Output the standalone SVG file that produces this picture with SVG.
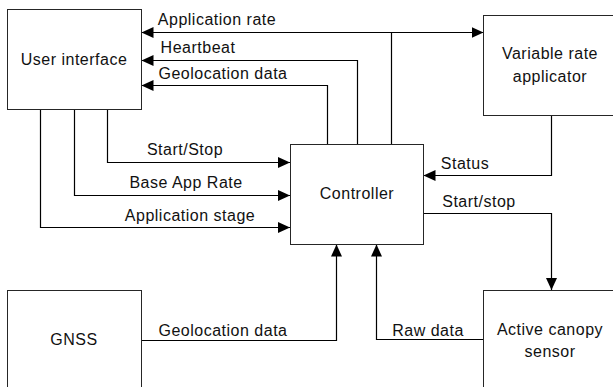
<svg xmlns="http://www.w3.org/2000/svg" width="613" height="387" viewBox="0 0 613 387">
  <style>
    .box { fill: #ffffff; stroke: #262626; stroke-width: 1; }
    .lbl { font-family: "Liberation Sans", Arial, sans-serif; font-size: 16px; letter-spacing: 0.5px; fill: #111111; text-anchor: middle; }
    .wire { fill: none; stroke: #000000; stroke-width: 1.2; }
    .arr { marker-end: url(#head); }
  </style>
  <defs>
    <marker id="head" markerUnits="userSpaceOnUse" markerWidth="13" markerHeight="11" refX="12" refY="5.5" orient="auto">
      <path d="M0,0 L12,5.5 L0,11 Z" fill="#000000"/>
    </marker>
  </defs>
  <rect width="613" height="387" fill="#ffffff"/>

  <g id="connectors">
    <!-- controller outputs to the user interface and the applicator -->
    <path class="wire arr" d="M391.5,144 V32.5 H141.5"/>
    <path class="wire arr" d="M391.5,32.5 H483.5"/>
    <path class="wire arr" d="M357.5,144 V60.5 H141.5"/>
    <path class="wire arr" d="M327.5,144 V85.5 H141.5"/>
    <!-- user interface inputs to the controller -->
    <path class="wire arr" d="M107.5,109 V162.5 H290"/>
    <path class="wire arr" d="M74.5,109 V195.5 H290"/>
    <path class="wire arr" d="M40.5,109 V227.5 H290"/>
    <!-- applicator status and sensor control -->
    <path class="wire arr" d="M551.5,115 V175.5 H423.5"/>
    <path class="wire arr" d="M423.5,213.5 H551.5 V290"/>
    <!-- GNSS and sensor data up into the controller -->
    <path class="wire arr" d="M141.5,340.5 H336.5 V244.5"/>
    <path class="wire arr" d="M483.5,339.5 H376.5 V244.5"/>

    <text class="lbl" x="217" y="25">Application rate</text>
    <text class="lbl" x="198" y="53">Heartbeat</text>
    <text class="lbl" x="223" y="79">Geolocation data</text>
    <text class="lbl" x="185" y="155">Start/Stop</text>
    <text class="lbl" x="186" y="188">Base App Rate</text>
    <text class="lbl" x="190" y="221">Application stage</text>
    <text class="lbl" x="465" y="169">Status</text>
    <text class="lbl" x="479" y="207">Start/stop</text>
    <text class="lbl" x="223" y="336">Geolocation data</text>
    <text class="lbl" x="428" y="336">Raw data</text>
  </g>

  <g id="user-interface">
    <rect class="box" x="7.5" y="9.5" width="134" height="100"/>
    <text class="lbl" x="74" y="65">User interface</text>
  </g>

  <g id="variable-rate-applicator">
    <rect class="box" x="483.5" y="15.5" width="140" height="100"/>
    <text class="lbl" x="550" y="59">Variable rate</text>
    <text class="lbl" x="550" y="82">applicator</text>
  </g>

  <g id="controller">
    <rect class="box" x="290.5" y="144.5" width="133" height="100"/>
    <text class="lbl" x="357" y="199">Controller</text>
  </g>

  <g id="gnss">
    <rect class="box" x="7.5" y="290.5" width="134" height="110"/>
    <text class="lbl" x="74" y="345">GNSS</text>
  </g>

  <g id="active-canopy-sensor">
    <rect class="box" x="483.5" y="290.5" width="140" height="110"/>
    <text class="lbl" x="550" y="335">Active canopy</text>
    <text class="lbl" x="550" y="357">sensor</text>
  </g>
</svg>
